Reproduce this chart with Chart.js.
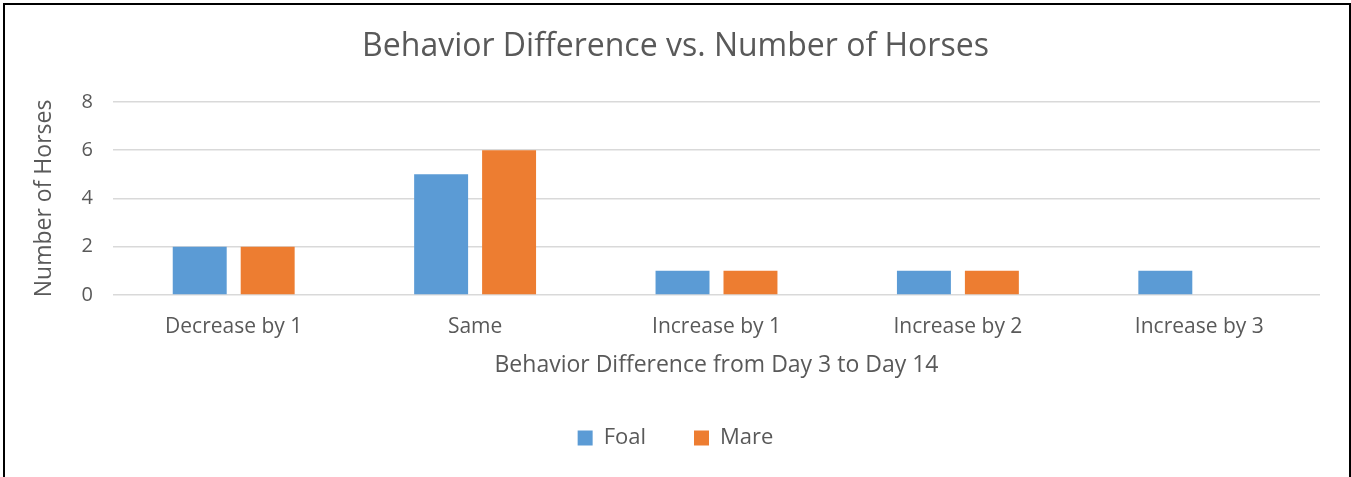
<!DOCTYPE html>
<html>
<head>
<meta charset="utf-8">
<script src="https://cdn.jsdelivr.net/npm/chart.js@4"></script>
<style>
body { margin: 0; background: #fff; }
#wrap { position: relative; width: 1351px; height: 477px; }
#frame { position: absolute; left: 3px; top: 3px; width: 1344px; height: 480px; border: 2px solid #000; pointer-events: none; }
</style>
</head>
<body>
<div id="wrap">
<canvas id="myChart" width="1351" height="477"></canvas>
<div id="frame"></div>
</div>
<script>
var categories = ["Decrease by 1", "Same", "Increase by 1", "Increase by 2", "Increase by 3"];
var foal = [2, 5, 1, 1, 1];
var mare = [2, 6, 1, 1, 0];
var yTicks = [0, 2, 4, 6, 8];

var font = "'Open Sans', sans-serif";
var grey = "#595959";

new Chart("myChart", {
  type: "bar",
  data: {
    labels: categories,
    datasets: [
      { label: "Foal", backgroundColor: "#5B9BD5", data: foal },
      { label: "Mare", backgroundColor: "#ED7D31", data: mare }
    ]
  },
  options: {
    responsive: false,
    animation: false,
    barPercentage: 0.794,
    categoryPercentage: 0.563,
    layout: { padding: { left: 0, right: 0, top: 0, bottom: 20 } },
    plugins: {
      title: {
        display: true,
        text: "Behavior Difference vs. Number of Horses",
        color: grey,
        font: { family: font, size: 32, weight: "normal" },
        padding: { top: 28, bottom: 35.5 }
      },
      legend: {
        position: "bottom",
        maxHeight: 78,
        labels: {
          color: grey,
          font: { family: font, size: 22 },
          boxWidth: 15,
          boxHeight: 15,
          padding: 48
        }
      },
      tooltip: { enabled: false }
    },
    scales: {
      x: {
        grid: { display: false, drawTicks: false },
        border: { display: false },
        ticks: { color: grey, font: { family: font, size: 21 }, padding: 19, maxRotation: 0 },
        title: {
          display: true,
          text: "Behavior Difference from Day 3 to Day 14",
          color: grey,
          font: { family: font, size: 23 },
          padding: { top: 0, bottom: 0 }
        },
        afterFit: function (s) { s.height = 84; }
      },
      y: {
        min: yTicks[0],
        max: yTicks[yTicks.length - 1],
        grid: { color: "#D9D9D9", lineWidth: 1.5, drawTicks: false },
        border: { display: false },
        afterBuildTicks: function (s) { s.ticks = yTicks.map(function (v) { return { value: v }; }); },
        ticks: { color: grey, font: { family: font, size: 20 }, padding: 20 },
        title: {
          display: true,
          text: "Number of Horses",
          color: grey,
          font: { family: font, size: 23 },
          padding: { top: 31, bottom: 0 }
        },
        afterFit: function (s) { s.width = 113; }
      },
      // empty right-hand axis, only reserves the margin on the right
      yRight: {
        position: "right",
        grid: { display: false, drawTicks: false },
        border: { display: false },
        ticks: { display: false },
        afterFit: function (s) { s.width = 31; }
      }
    }
  }
});
</script>
</body>
</html>
